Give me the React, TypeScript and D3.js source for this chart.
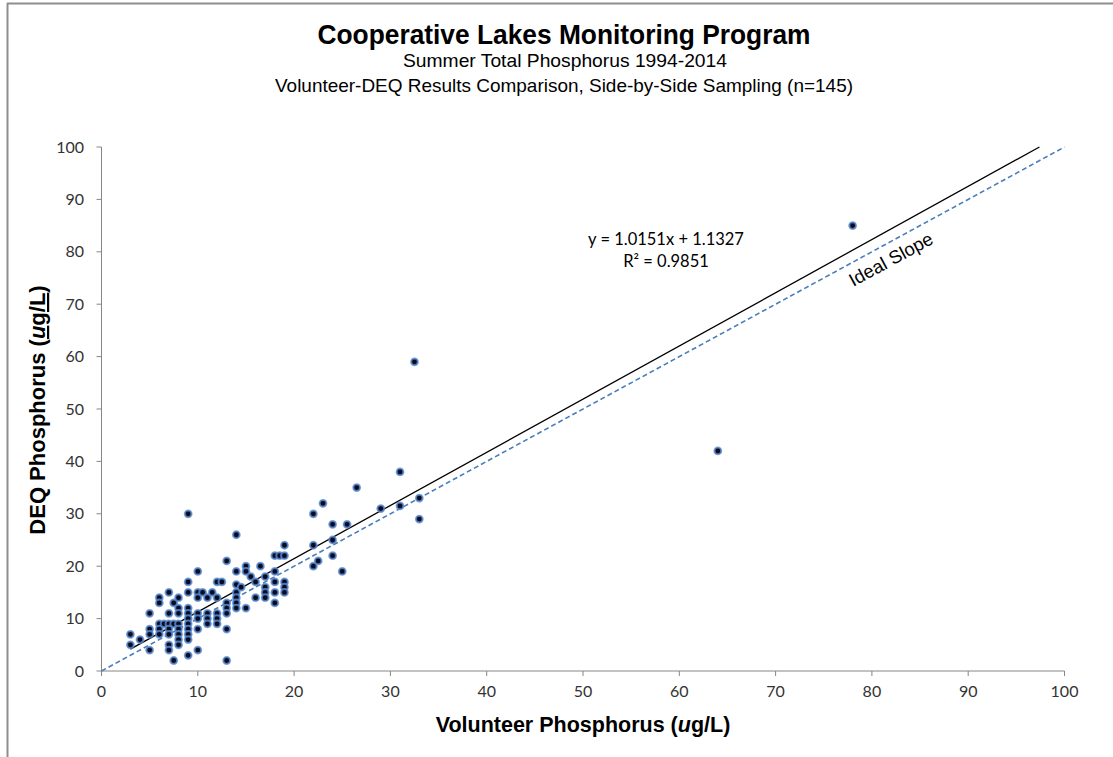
import * as d3 from "d3";

// values: volunteer (x) vs DEQ (y), ug/L
const volunteer = [
  3, 3, 4, 5, 5, 5, 5, 6, 6, 6, 6, 6, 6.5,
  7, 7, 7, 7, 7, 7, 7, 7.5, 7.5, 7.5,
  8, 8, 8, 8, 8, 8, 8, 8,
  9, 9, 9, 9, 9, 9, 9, 9, 9, 9, 9,
  10, 10, 10, 10, 10, 10, 10, 10.5,
  11, 11, 11, 11, 11.5, 12, 12, 12, 12, 12, 12.5,
  13, 13, 13, 13, 13, 13,
  14, 14, 14, 14, 14, 14, 14, 14.5,
  15, 15, 15, 15.5, 16, 16, 16.5,
  17, 17, 17, 17, 18, 18, 18, 18, 18, 18.5,
  19, 19, 19, 19, 19,
  22, 22, 22, 22.5, 23, 24, 24, 24, 25, 25.5, 26.5, 29,
  31, 31, 32.5, 33, 33, 64, 78,
];
const deq = [
  7, 5, 6, 11, 8, 7, 4, 14, 13, 9, 8, 7, 9,
  15, 11, 9, 8, 7, 5, 4, 13, 9, 2,
  14, 12, 11, 9, 8, 7, 6, 5,
  30, 17, 15, 12, 11, 10, 9, 8, 7, 6, 3,
  19, 15, 14, 11, 10, 8, 4, 15,
  14, 11, 10, 9, 15, 17, 14, 11, 10, 9, 17,
  21, 13, 12, 11, 8, 2,
  26, 19, 16.5, 15, 14, 13, 12, 16,
  20, 19, 12, 18, 17, 14, 20,
  18, 16, 15, 14, 22, 19, 17, 15, 13, 22,
  24, 22, 17, 16, 15,
  30, 24, 20, 21, 32, 28, 25, 22, 19, 28, 35, 31,
  38, 31.5, 59, 33, 29, 42, 85,
];

const xTicks = [0, 10, 20, 30, 40, 50, 60, 70, 80, 90, 100];
const yTicks = [0, 10, 20, 30, 40, 50, 60, 70, 80, 90, 100];

const trendSlope = 1.0151;
const trendIntercept = 1.1327;
const rSquared = 0.9851;

const TITLE_FONT = "'Liberation Sans Narrow', 'Liberation Sans', Arial, sans-serif";
const TICK_FONT = "Lato, 'Open Sans', sans-serif";
const AXIS_GRAY = "#868686";

export default function App() {
  const width = 1113;
  const height = 757;

  const x = d3.scaleLinear().domain([0, 100]).range([101.5, 1064.5]);
  const y = d3.scaleLinear().domain([0, 100]).range([671, 147]);

  const points = d3.zip(volunteer, deq);

  // Excel stops the trendline where it leaves the plot area (y = 100)
  const trendStart = d3.min(volunteer) ?? 0;
  const trendEnd = (100 - trendIntercept) / trendSlope;
  const line = d3
    .line<number>()
    .x((v) => x(v))
    .y((v) => y(trendSlope * v + trendIntercept));

  const ideal = d3
    .line<number>()
    .x((v) => x(v))
    .y((v) => y(v));

  // angle of the 1:1 line on screen, for the "Ideal Slope" label
  const angle =
    (Math.atan2(y(0) - y(100), x(100) - x(0)) * 180) / Math.PI;

  return (
    <svg
      width={width}
      height={height}
      style={{ position: "absolute", left: 0, top: 0, background: "#fff" }}
    >
      {/* chart frame, only top & left edges are in view */}
      <line x1={7} y1={3.5} x2={width} y2={3.5} stroke="#8e8e8e" strokeWidth={2} />
      <line x1={7.5} y1={3} x2={7.5} y2={height} stroke="#8e8e8e" strokeWidth={2} />

      <g fontFamily={TITLE_FONT} textAnchor="middle" fill="#000">
        <text x={564} y={44} fontSize={28} fontWeight="bold" textLength={493} lengthAdjust="spacingAndGlyphs">
          Cooperative Lakes Monitoring Program
        </text>
        <text x={565} y={67} fontSize={19} textLength={324} lengthAdjust="spacingAndGlyphs">
          Summer Total Phosphorus 1994-2014
        </text>
        <text x={564} y={92} fontSize={19} textLength={578} lengthAdjust="spacingAndGlyphs">
          Volunteer-DEQ Results Comparison, Side-by-Side Sampling  (n=145)
        </text>
      </g>

      {/* y axis */}
      <g>
        <line x1={x(0)} y1={y(0)} x2={x(0)} y2={y(100)} stroke={AXIS_GRAY} />
        {yTicks.map((t) => (
          <g key={t} transform={`translate(0,${y(t)})`}>
            <line x1={x(0) - 5} x2={x(0)} stroke={AXIS_GRAY} />
            <text
              x={84}
              dy="0.35em"
              textAnchor="end"
              fontFamily={TICK_FONT}
              fontSize={16}
              fill="#333"
            >
              {t}
            </text>
          </g>
        ))}
      </g>

      {/* x axis */}
      <g>
        <line x1={x(0)} y1={y(0)} x2={x(100)} y2={y(0)} stroke={AXIS_GRAY} />
        {xTicks.map((t) => (
          <g key={t} transform={`translate(${x(t)},0)`}>
            <line y1={y(0)} y2={y(0) + 5} stroke={AXIS_GRAY} />
            <text
              y={697}
              textAnchor="middle"
              fontFamily={TICK_FONT}
              fontSize={16}
              fill="#333"
            >
              {t}
            </text>
          </g>
        ))}
      </g>

      {/* axis titles */}
      <text
        x={583}
        y={732}
        textAnchor="middle"
        fontFamily={TITLE_FONT}
        fontSize={21.5}
        fontWeight="bold"
      >
        Volunteer Phosphorus (<tspan fontStyle="italic">u</tspan>g/L)
      </text>
      <text
        transform="translate(45,410) rotate(-90)"
        textAnchor="middle"
        fontFamily={TITLE_FONT}
        fontSize={22}
        fontWeight="bold"
      >
        DEQ Phosphorus (
        <tspan style={{ textDecoration: "underline" }}>
          <tspan fontStyle="italic">u</tspan>g/L
        </tspan>
        )
      </text>

      {/* 1:1 line */}
      <path
        d={ideal([0, 100]) ?? ""}
        fill="none"
        stroke="#4a7ebb"
        strokeWidth={1.6}
        strokeDasharray="5,3"
      />
      <text
        transform={`translate(${x(81.2)},${y(81.2)}) rotate(${-angle})`}
        dy={22}
        textAnchor="middle"
        fontFamily="'Liberation Sans', Arial, sans-serif"
        fontSize={18.5}
        fill="#000"
      >
        Ideal Slope
      </text>

      {/* linear trendline */}
      <path
        d={line([trendStart, trendEnd]) ?? ""}
        fill="none"
        stroke="#000"
        strokeWidth={1.3}
      />

      <g fontFamily={TICK_FONT} fontSize={16.5} textAnchor="middle" fill="#000">
        <text x={666} y={245}>
          y = {trendSlope.toFixed(4)}x + {trendIntercept.toFixed(4)}
        </text>
        <text x={666} y={267}>
          R² = {rSquared.toFixed(4)}
        </text>
      </g>

      {/* observations */}
      <g>
        {points.map(([v, d], i) => (
          <circle
            key={i}
            cx={x(v)}
            cy={y(d)}
            r={3.4}
            fill="#0b0b20"
            stroke="#5b8fd6"
            strokeWidth={2}
            strokeOpacity={0.8}
          />
        ))}
      </g>
    </svg>
  );
}
